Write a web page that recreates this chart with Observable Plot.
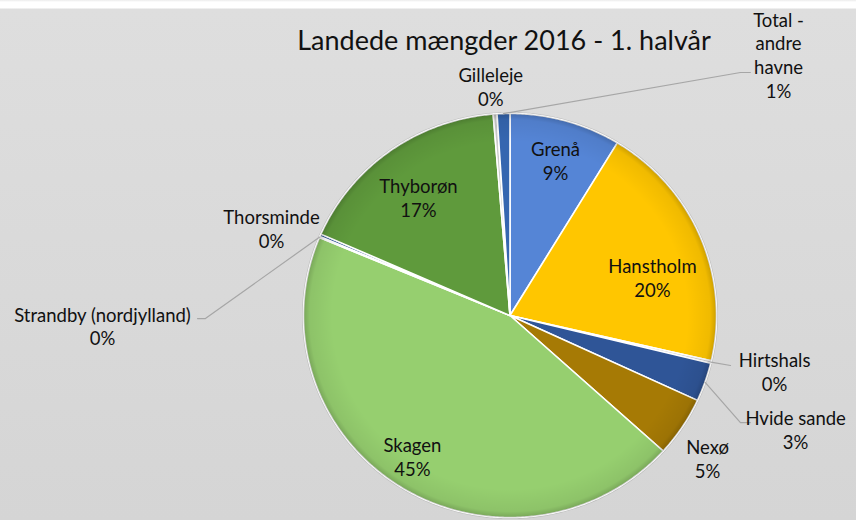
<!DOCTYPE html>
<html>
<head>
<meta charset="utf-8">
<script src="https://cdn.jsdelivr.net/npm/d3@7"></script>
<script src="https://cdn.jsdelivr.net/npm/@observablehq/plot@0.6"></script>
<style>
  html, body { margin: 0; padding: 0; }
  body {
    width: 856px; height: 520px; overflow: hidden;
    background: linear-gradient(to bottom, #ececec 0px, #ffffff 2px, #ffffff 8px, #dedede 9px, #d5d5d5 100%);
    font-family: Lato, "Open Sans", sans-serif;
  }
</style>
</head>
<body>
<div id="chart"></div>
<script>
// ---- data ----
const title = "Landede mængder 2016 - 1. halvår";
const names = ["Grenå", "Hanstholm", "Hirtshals", "Hvide sande", "Nexø", "Skagen",
               "Strandby (nordjylland)", "Thorsminde", "Thyborøn", "Gilleleje", "Total - andre havne"];
const shares = [8.7, 19.9, 0.2, 3.1, 4.8, 44.6, 0.1, 0.2, 17.1, 0.3, 1.0];
const colors = ["#5585d6", "#ffc600", "#c8c8c8", "#2f5597", "#a67a05", "#96cf6f",
                "#e4e4e4", "#2f5597", "#5f9a3c", "#cacaca", "#3566b0"];

// ---- layout (label placement: [angle deg clockwise from top, radius in pie units]) ----
const labelPolar = {
  "Grenå": [16.0, 0.80],
  "Hanstholm": [74.8, 0.715],
  "Hirtshals": [102.2, 1.311],
  "Hvide sande": [112.2, 1.494],
  "Nexø": [126.5, 1.19],
  "Skagen": [214.1, 0.843],
  "Strandby (nordjylland)": [268.5, 1.974],
  "Thorsminde": [290.5, 1.233],
  "Thyborøn": [322.8, 0.733],
  "Gilleleje": [355.3, 1.138],
  "Total - andre havne": [45.2, 1.833]
};
// leader lines: elbow and end points in pie units (start = slice edge at mid angle)
const leaders = {
  "Total - andre havne": [[1.116, 1.203], [1.164, 1.203]],
  "Hirtshals": [[1.068, -0.2475]],
  "Hvide sande": [[1.116, -0.530], [1.164, -0.530]],
  "Strandby (nordjylland)": [[-1.475, -0.015], [-1.513, -0.015]]
};
const labelText = {
  "Total - andre havne": "Total -\nandre\nhavne"
};

// ---- geometry from data ----
const total = d3.sum(shares);
const pie = d3.pie().sort(null).value(d => d)(shares);
const rad = deg => deg * Math.PI / 180;
const slicePts = [];
pie.forEach((p, i) => {
  const a0 = p.startAngle, a1 = p.endAngle;
  const n = Math.max(2, Math.ceil((a1 - a0) / rad(0.5)));
  slicePts.push({name: names[i], x: 0, y: 0});
  for (let k = 0; k <= n; k++) {
    const a = a0 + (a1 - a0) * k / n;
    slicePts.push({name: names[i], x: Math.sin(a), y: Math.cos(a)});
  }
});
const ring = d3.range(0, 361, 1).map(d => ({x: Math.sin(rad(d)), y: Math.cos(rad(d))}));

const labels = names.map((nm, i) => {
  const [ang, r] = labelPolar[nm];
  const pct = Math.round(shares[i] / total * 100) + "%";
  return {
    name: nm,
    x: r * Math.sin(rad(ang)),
    y: r * Math.cos(rad(ang)),
    text: (labelText[nm] || nm) + "\n" + pct
  };
});

const leaderPts = [];
names.forEach((nm, i) => {
  if (!leaders[nm]) return;
  const mid = (pie[i].startAngle + pie[i].endAngle) / 2;
  leaderPts.push({name: nm, x: Math.sin(mid), y: Math.cos(mid)});
  leaders[nm].forEach(([x, y]) => leaderPts.push({name: nm, x, y}));
});

const chart = Plot.plot({
  width: 856,
  height: 520,
  margin: 0,
  style: {background: "transparent", fontFamily: "Lato, 'Open Sans', sans-serif"},
  x: {domain: [-1, 1], range: [303, 716], axis: null},
  y: {domain: [-1, 1], range: [517, 113], axis: null},
  color: {domain: names, range: colors},
  marks: [
    // soft shadow around the pie
    Plot.line(ring, {x: "x", y: "y", curve: "linear-closed", stroke: "#8c8c8c", strokeWidth: 3, strokeOpacity: 0.3}),
    Plot.line(slicePts, {x: "x", y: "y", z: "name", fill: "name", stroke: "white", strokeWidth: 1.6, strokeLinejoin: "round", curve: "linear-closed"}),
    // rim shading
    Plot.line(ring, {x: "x", y: "y", curve: "linear-closed", fill: "url(#rimShade)", stroke: "none"}),
    Plot.line(leaderPts, {x: "x", y: "y", z: "name", stroke: "#a6a6a6", strokeWidth: 1.2}),
    Plot.text(labels, {x: "x", y: "y", text: "text", fontSize: 18.5, lineHeight: 1.28, fill: "#111", textAnchor: "middle", lineAnchor: "middle"}),
    Plot.text([title], {frameAnchor: "top", dx: 75.5, dy: 41, fontSize: 27, fill: "#111", textAnchor: "middle", lineAnchor: "middle"})
  ]
});

// gradient definition for the rim shading
const defs = d3.select(chart).insert("defs", ":first-child");
const g = defs.append("radialGradient").attr("id", "rimShade");
g.append("stop").attr("offset", "0.86").attr("stop-color", "#000").attr("stop-opacity", 0);
g.append("stop").attr("offset", "0.97").attr("stop-color", "#000").attr("stop-opacity", 0.06);
g.append("stop").attr("offset", "1").attr("stop-color", "#000").attr("stop-opacity", 0.2);

document.getElementById("chart").appendChild(chart);
</script>
</body>
</html>
